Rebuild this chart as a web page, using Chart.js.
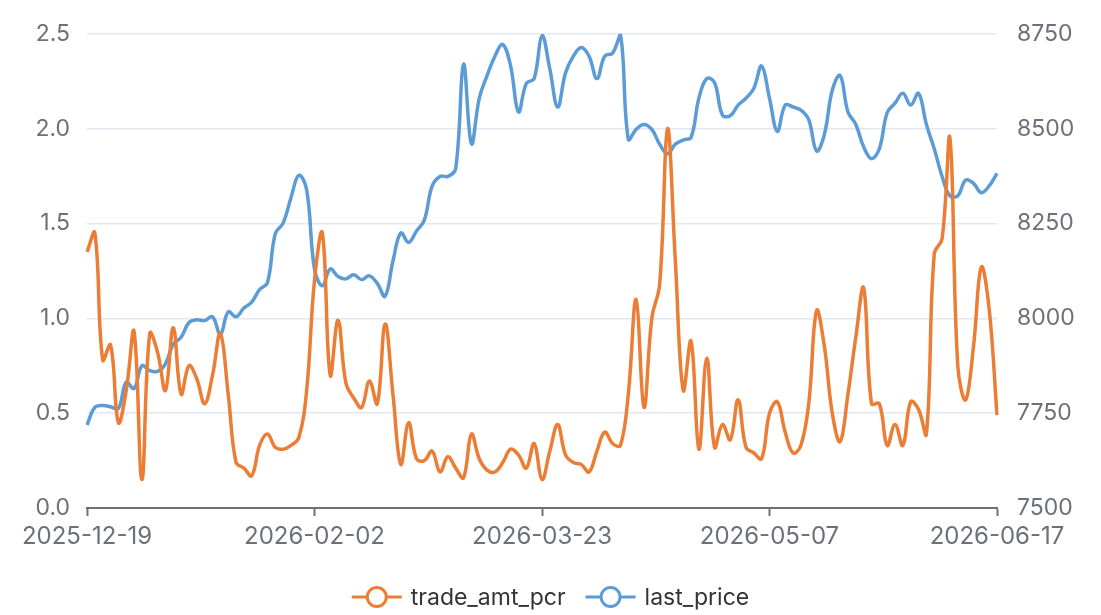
<!DOCTYPE html>
<html>
<head>
<meta charset="utf-8">
<script src="https://cdn.jsdelivr.net/npm/chart.js@4/dist/chart.umd.min.js"></script>
<style>
  html, body { margin: 0; padding: 0; background: #fff; }
  #wrap { width: 1101px; height: 615px; }
</style>
</head>
<body>
<div id="wrap"><canvas id="chart"></canvas></div>
<script>
const dates = [
  '2025-12-19','2025-12-22','2025-12-23','2025-12-24','2025-12-25','2025-12-26','2025-12-29','2025-12-30','2025-12-31',
  '2026-01-05','2026-01-06','2026-01-07','2026-01-08','2026-01-09','2026-01-12','2026-01-13','2026-01-14','2026-01-15','2026-01-16',
  '2026-01-19','2026-01-20','2026-01-21','2026-01-22','2026-01-23','2026-01-26','2026-01-27','2026-01-28','2026-01-29','2026-01-30',
  '2026-02-02','2026-02-03','2026-02-04','2026-02-05','2026-02-06','2026-02-09','2026-02-10','2026-02-11','2026-02-12','2026-02-13',
  '2026-02-24','2026-02-25','2026-02-26','2026-02-27','2026-03-02','2026-03-03','2026-03-04','2026-03-05','2026-03-06',
  '2026-03-09','2026-03-10','2026-03-11','2026-03-12','2026-03-13','2026-03-16','2026-03-17','2026-03-18','2026-03-19','2026-03-20',
  '2026-03-23','2026-03-24','2026-03-25','2026-03-26','2026-03-27','2026-03-30','2026-03-31','2026-04-01','2026-04-02','2026-04-03',
  '2026-04-07','2026-04-08','2026-04-09','2026-04-10','2026-04-13','2026-04-14','2026-04-15','2026-04-16','2026-04-17',
  '2026-04-20','2026-04-21','2026-04-22','2026-04-23','2026-04-24','2026-04-27','2026-04-28','2026-04-29','2026-04-30',
  '2026-05-06','2026-05-07','2026-05-08','2026-05-11','2026-05-12','2026-05-13','2026-05-14','2026-05-15',
  '2026-05-18','2026-05-19','2026-05-20','2026-05-21','2026-05-22','2026-05-25','2026-05-26','2026-05-27','2026-05-28','2026-05-29',
  '2026-06-01','2026-06-02','2026-06-03','2026-06-04','2026-06-05','2026-06-08','2026-06-09','2026-06-10','2026-06-11','2026-06-12',
  '2026-06-15','2026-06-16','2026-06-17'
];

const tradeAmtPcr = [
  1.35, 1.45, 0.78, 0.86, 0.45, 0.62, 0.93, 0.15, 0.92, 0.82,
  0.62, 0.95, 0.60, 0.75, 0.68, 0.55, 0.70, 0.92, 0.60, 0.24,
  0.21, 0.17, 0.33, 0.39, 0.32, 0.31, 0.33, 0.37, 0.62, 1.20,
  1.45, 0.70, 0.99, 0.66, 0.58, 0.53, 0.67, 0.55, 0.97, 0.60,
  0.23, 0.45, 0.26, 0.25, 0.30, 0.19, 0.27, 0.21, 0.16, 0.39,
  0.26, 0.20, 0.19, 0.24, 0.31, 0.28, 0.21, 0.34, 0.15, 0.30,
  0.44, 0.28, 0.24, 0.23, 0.19, 0.30, 0.40, 0.34, 0.33, 0.60,
  1.10, 0.53, 1.00, 1.18, 2.00, 1.30, 0.62, 0.88, 0.31, 0.79,
  0.32, 0.44, 0.36, 0.57, 0.32, 0.29, 0.26, 0.50, 0.56, 0.40,
  0.29, 0.33, 0.55, 1.04, 0.85, 0.50, 0.35, 0.60, 0.90, 1.16,
  0.55, 0.55, 0.33, 0.44, 0.33, 0.56, 0.52, 0.39, 1.34, 1.42,
  1.95, 0.75, 0.57, 0.85, 1.27, 1.05, 0.49
];

const lastPrice = [
  7719, 7765, 7770, 7767, 7762, 7832, 7815, 7875, 7862, 7860,
  7880, 7932, 7950, 7989, 7996, 7994, 8004, 7958, 8017, 8004,
  8027, 8043, 8076, 8094, 8223, 8251, 8318, 8377, 8339, 8130,
  8086, 8130, 8110, 8104, 8115, 8102, 8112, 8092, 8058, 8151,
  8225, 8200, 8230, 8259, 8349, 8374, 8374, 8395, 8670, 8460,
  8580, 8640, 8691, 8722, 8665, 8544, 8619, 8632, 8745, 8657,
  8557, 8647, 8691, 8714, 8691, 8632, 8691, 8699, 8748, 8472,
  8498, 8511, 8498, 8459, 8434, 8459, 8470, 8477, 8580, 8632,
  8621, 8536, 8534, 8562, 8580, 8606, 8665, 8580, 8493, 8562,
  8557, 8549, 8524, 8441, 8485, 8601, 8640, 8544, 8511, 8452,
  8421, 8447, 8542, 8567, 8593, 8562, 8593, 8511, 8447, 8374,
  8323, 8323, 8364, 8356, 8331, 8349, 8382
];

const xTickDates = ['2025-12-19', '2026-02-02', '2026-03-23', '2026-05-07', '2026-06-17'];
const leftTicks = [0, 0.5, 1.0, 1.5, 2.0, 2.5];
const rightTicks = [7500, 7750, 8000, 8250, 8500, 8750];

const ORANGE = '#ec7d34';
const BLUE = '#5b9bd6';
const AXIS_TEXT = '#6e7079';
const FONT = 'Inter, "Noto Sans", sans-serif';

// legend drawn under the plot: line + hollow circle, then the name
const bottomLegend = {
  id: 'bottomLegend',
  afterDraw(chart) {
    const ctx = chart.ctx;
    ctx.save();
    ctx.font = '23px ' + FONT;
    const iconW = 50, textGap = 9, itemGap = 20, y = 597;
    const items = chart.data.datasets.map(ds => ({
      label: ds.label, color: ds.borderColor, w: ctx.measureText(ds.label).width
    }));
    const total = items.reduce((s, it) => s + iconW + textGap + it.w, 0) + itemGap * (items.length - 1);
    let x = (chart.width - total) / 2;
    items.forEach(it => {
      ctx.strokeStyle = it.color;
      ctx.lineWidth = 3;
      ctx.beginPath();
      ctx.moveTo(x, y);
      ctx.lineTo(x + iconW, y);
      ctx.stroke();
      ctx.beginPath();
      ctx.arc(x + iconW / 2, y, 9.5, 0, Math.PI * 2);
      ctx.fillStyle = '#fff';
      ctx.fill();
      ctx.stroke();
      ctx.fillStyle = '#333';
      ctx.textBaseline = 'middle';
      ctx.textAlign = 'left';
      ctx.fillText(it.label, x + iconW + textGap, y + 1);
      x += iconW + textGap + it.w + itemGap;
    });
    ctx.restore();
  }
};

new Chart(document.getElementById('chart'), {
  type: 'line',
  data: {
    labels: dates,
    datasets: [
      {
        label: 'trade_amt_pcr',
        data: tradeAmtPcr,
        yAxisID: 'y',
        borderColor: ORANGE,
        backgroundColor: ORANGE,
        borderWidth: 3.5,
        pointRadius: 0,
        tension: 0.4,
      },
      {
        label: 'last_price',
        data: lastPrice,
        yAxisID: 'y1',
        borderColor: BLUE,
        backgroundColor: BLUE,
        borderWidth: 3.5,
        pointRadius: 0,
        tension: 0.4,
      },
    ],
  },
  options: {
    responsive: true,
    maintainAspectRatio: false,
    animation: false,
    devicePixelRatio: 1,
    layout: { padding: { top: 22, left: 0, right: 0, bottom: 57 } },
    plugins: {
      legend: { display: false },
      tooltip: { enabled: false },
    },
    scales: {
      x: {
        offset: false,
        afterFit: s => { s.height = 50; },
        afterBuildTicks: s => {
          s.ticks = s.ticks.filter(t => xTickDates.includes(dates[t.value]));
        },
        ticks: {
          autoSkip: false,
          maxRotation: 0,
          color: AXIS_TEXT,
          padding: 6,
          font: { family: FONT, size: 24 },
        },
        grid: {
          drawOnChartArea: false,
          drawTicks: true,
          tickLength: 8,
          tickColor: AXIS_TEXT,
          tickWidth: 2,
        },
        border: { display: true, color: AXIS_TEXT, width: 2 },
      },
      y: {
        position: 'left',
        min: 0,
        max: 2.5,
        afterFit: s => { s.width = 87; },
        afterBuildTicks: s => { s.ticks = leftTicks.map(v => ({ value: v })); },
        ticks: {
          color: AXIS_TEXT,
          padding: 17,
          font: { family: FONT, size: 23 },
          callback: v => v.toFixed(1),
        },
        grid: { color: '#e3e7f3', lineWidth: 1.5, drawTicks: false },
        border: { display: false },
      },
      y1: {
        position: 'right',
        min: 7500,
        max: 8750,
        afterFit: s => { s.width = 104; },
        afterBuildTicks: s => { s.ticks = rightTicks.map(v => ({ value: v })); },
        ticks: {
          color: AXIS_TEXT,
          padding: 20,
          font: { family: FONT, size: 23 },
          callback: v => String(v),
        },
        grid: { drawOnChartArea: false, drawTicks: false },
        border: { display: false },
      },
    },
  },
  plugins: [bottomLegend],
});
</script>
</body>
</html>
